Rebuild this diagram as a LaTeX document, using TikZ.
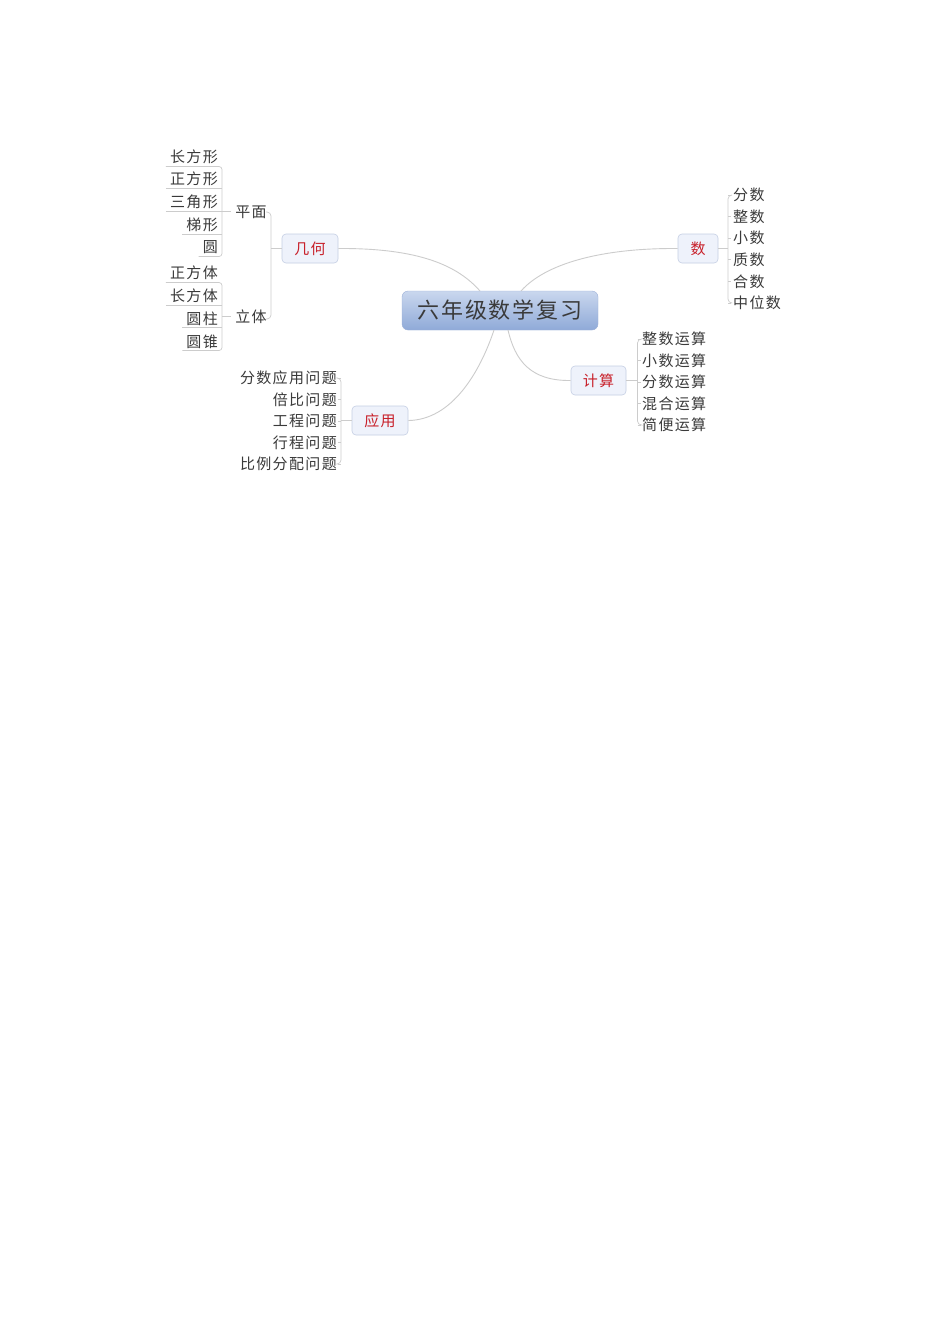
\documentclass[tikz,border=0pt]{standalone}
\usepackage{fontspec}
\newfontfamily\cjk[LetterSpace=9]{Noto Sans CJK SC}
\definecolor{txtgray}{HTML}{3A3A3A}
\definecolor{topicred}{HTML}{C8202A}
\definecolor{linegray}{HTML}{CCCCCC}
\definecolor{boxfill}{HTML}{EEF2FB}
\definecolor{boxborder}{HTML}{C5CFE4}
\definecolor{roottop}{HTML}{CAD7EE}
\definecolor{rootbot}{HTML}{8FAAD8}
\definecolor{rootborder}{HTML}{9DB1D8}
\begin{document}
\begin{tikzpicture}[x=1pt,y=-1pt,
  leaf/.style={font=\cjk\fontsize{15}{15}\selectfont, text=txtgray, inner sep=0pt},
  topic/.style={draw=boxborder, fill=boxfill, rounded corners=4pt, minimum height=29pt, inner sep=0pt, font=\cjk\fontsize{15}{15}\selectfont, text=topicred, line width=0.6pt},
  rootbox/.style={draw=rootborder, top color=roottop, bottom color=rootbot, rounded corners=6pt, minimum width=196pt, minimum height=39pt, inner sep=0pt, font=\cjk\fontsize{22}{22}\selectfont, text=txtgray},
  conn/.style={draw=linegray, line width=0.9pt},
  thin/.style={draw=linegray, line width=0.7pt}]
\useasboundingbox (0,0) rectangle (950,1344);
\fill[white] (0,0) rectangle (950,1344);

% root and main topics
\node[rootbox] (root) at (500,310.5) {六年级数学复习};
\node[topic, minimum width=56pt] (geo) at (310,248.5) {几何};
\node[topic, minimum width=40pt] (shu) at (698,248.5) {数};
\node[topic, minimum width=55pt] (js) at (598.5,380.5) {计算};
\node[topic, minimum width=56pt] (yy) at (380,420.5) {应用};

\coordinate (rg) at (480,291);
\coordinate (rs) at (521,291);
\coordinate (rj) at (508,330);
\coordinate (ry) at (494,330);
\draw[conn] (geo.east) .. controls (420,248) and (458,266) .. (rg);
\draw[conn] (shu.west) .. controls (600,248) and (545,264) .. (rs);
\draw[conn] (js.west) .. controls (530,381) and (515,360) .. (rj);
\draw[conn] (yy.east) .. controls (452,420) and (480,372) .. (ry);

% ---------- 几何 ----------
\node[leaf] (pm) at (251,212) {平面};
\node[leaf] (lt) at (251,317) {立体};
\coordinate (gb1) at (266,212);
\coordinate (gb2) at (271,212);
\coordinate (gb3) at (271,319);
\coordinate (gb4) at (266,319);
\coordinate (gbm) at (271,248.5);
\draw[thin, rounded corners=4pt] (gb1) -- (gb2) -- (gb3) -- (gb4);
\draw[thin] (geo.west) -- (gbm);

\node[leaf, anchor=east] (a1) at (218,157) {长方形};
\node[leaf, anchor=east] (a2) at (218,179) {正方形};
\node[leaf, anchor=east] (a3) at (218,202) {三角形};
\node[leaf, anchor=east] (a4) at (218,225) {梯形};
\node[leaf, anchor=east] (a5) at (218,247) {圆};
\coordinate (av1) at (222,166.5);
\coordinate (av5) at (222,256.5);
\draw[thin, rounded corners=3pt] ([xshift=-4pt]a1.west |- av1) -- (av1) -- (av5) -- ([xshift=-4pt]a5.west |- av5);
\draw[thin] ([xshift=-4pt]a2.west |- 0,188.5) -- (222,188.5);
\draw[thin] ([xshift=-4pt]a3.west |- 0,211.5) -- (222,211.5);
\draw[thin] ([xshift=-4pt]a4.west |- 0,234.5) -- (222,234.5);
\coordinate (am) at (222,211.5);
\draw[thin] (am) -- ([xshift=-4pt]pm.west |- am);

\node[leaf, anchor=east] (b1) at (218,273) {正方体};
\node[leaf, anchor=east] (b2) at (218,296) {长方体};
\node[leaf, anchor=east] (b3) at (218,319) {圆柱};
\node[leaf, anchor=east] (b4) at (218,342) {圆锥};
\coordinate (bv1) at (222,282.5);
\coordinate (bv4) at (222,350.5);
\draw[thin, rounded corners=3pt] ([xshift=-4pt]b1.west |- bv1) -- (bv1) -- (bv4) -- ([xshift=-4pt]b4.west |- bv4);
\draw[thin] ([xshift=-4pt]b2.west |- 0,305.5) -- (222,305.5);
\draw[thin] ([xshift=-4pt]b3.west |- 0,327.5) -- (222,327.5);
\coordinate (bm) at (222,316.5);
\draw[thin] (bm) -- ([xshift=-4pt]lt.west |- bm);

% ---------- 数 ----------
\foreach \t [count=\i] in {分数,整数,小数,质数,合数,中位数} {
  \node[leaf, anchor=west] (s\i) at (733,{195+(\i-1)*21.6}) {\t};
  \draw[thin] (728,{195+(\i-1)*21.6}) -- (731,{195+(\i-1)*21.6});
}
\draw[thin, rounded corners=4pt] ([xshift=-1pt]s1.west) -- (728,195) -- (728,303) -- ([xshift=-1pt]s6.west);
\coordinate (sm) at (728,248.5);
\draw[thin] (shu.east) -- (sm);

% ---------- 计算 ----------
\foreach \t [count=\i] in {整数运算,小数运算,分数运算,混合运算,简便运算} {
  \node[leaf, anchor=west] (j\i) at (642,{339+(\i-1)*21.5}) {\t};
  \draw[thin] (637.5,{339+(\i-1)*21.5}) -- (640.5,{339+(\i-1)*21.5});
}
\draw[thin, rounded corners=4pt] ([xshift=-1pt]j1.west) -- (637.5,339) -- (637.5,425) -- ([xshift=-1pt]j5.west);
\coordinate (jm) at (637.5,380.5);
\draw[thin] (js.east) -- (jm);

% ---------- 应用 ----------
\foreach \t [count=\i] in {分数应用问题,倍比问题,工程问题,行程问题,比例分配问题} {
  \node[leaf, anchor=east] (y\i) at (337,{378+(\i-1)*21.5}) {\t};
  \draw[thin] (341,{378+(\i-1)*21.5}) -- (338,{378+(\i-1)*21.5});
}
\draw[thin, rounded corners=4pt] ([xshift=1pt]y1.east) -- (341,378) -- (341,464) -- ([xshift=1pt]y5.east);
\coordinate (ym) at (341,420.5);
\draw[thin] (yy.west) -- (ym);
\end{tikzpicture}
\end{document}
